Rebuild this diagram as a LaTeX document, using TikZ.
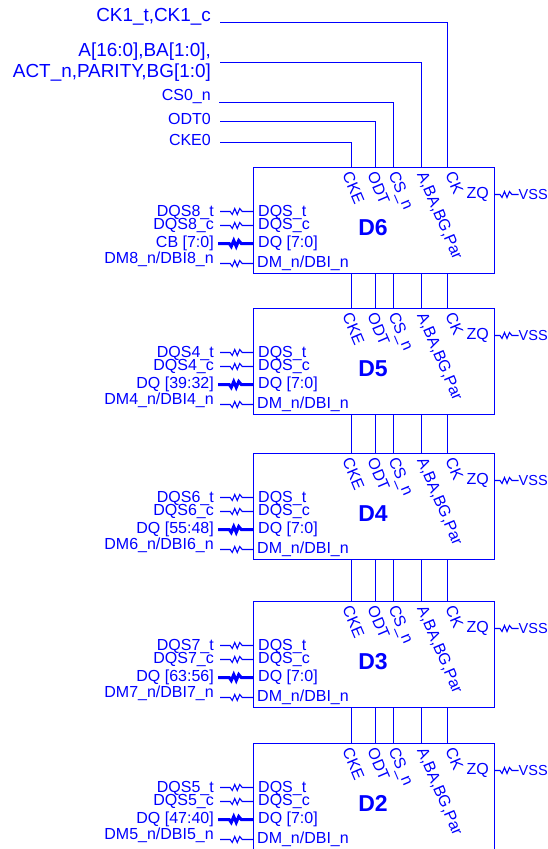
\documentclass[tikz,border=0pt]{standalone}
\usepackage{fontspec}
\setmainfont{Liberation Sans}
\usetikzlibrary{calc,positioning}
\definecolor{sigblue}{RGB}{0,0,255}
\tikzstyle{wire}      = [draw=sigblue, line width=1.1pt]
\tikzstyle{chip}      = [draw=sigblue, line width=1.1pt, minimum width=241pt, minimum height=106pt, anchor=north west, inner sep=0pt, outer sep=0pt]
\tikzstyle{sig}       = [text=sigblue, inner sep=0pt, font=\fontsize{16}{18}\selectfont]
\tikzstyle{bigsig}    = [sig, align=right, anchor=east, font=\fontsize{18.9}{20.5}\selectfont]
\tikzstyle{pin}       = [sig, anchor=west, rotate=-67]
\tikzstyle{title}     = [text=sigblue, inner sep=0pt, font=\fontsize{23}{25}\selectfont\bfseries]
\tikzstyle{res}       = [wire, to path={-- ($(\tikztostart)!0.5!(\tikztotarget)+(-6.5,0)$) -- ++(2,3) -- ++(2.5,-6) -- ++(2.5,6) -- ++(2.5,-6) -- ++(2.5,3) -- (\tikztotarget)}]

\begin{document}
\begin{tikzpicture}[x=1pt,y=-1pt]
		\useasboundingbox (0,0) rectangle (547,849);
		\clip (0,0) rectangle (547,849);
		% signals along the top
		\node[bigsig] (ck) at (211,17) {CK1\_t,CK1\_c};
		\node[bigsig] (addr) at (211,62) {A[16:0],BA[1:0],\\ACT\_n,PARITY,BG[1:0]};
		\node[sig, anchor=east] (cs) at (211,97) {CS0\_n};
		\node[sig, anchor=east] (odt) at (211,119) {ODT0};
		\node[sig, anchor=east] (cke) at (211,140) {CKE0};
		% one block per chip
		\foreach \name/\top/\dqst/\dqsc/\dq/\dm in {
				D6/167.5/DQS8\_t/DQS8\_c/CB [7:0]/DM8\_n\slash DBI8\_n,
				D5/308.5/DQS4\_t/DQS4\_c/DQ [39:32]/DM4\_n\slash DBI4\_n,
				D4/453.5/DQS6\_t/DQS6\_c/DQ [55:48]/DM6\_n\slash DBI6\_n,
				D3/601.5/DQS7\_t/DQS7\_c/DQ [63:56]/DM7\_n\slash DBI7\_n,
				D2/743.5/DQS5\_t/DQS5\_c/DQ [47:40]/DM5\_n\slash DBI5\_n
			} {
				\node[chip] (\name) at (253.5,\top) {};
				\node[title] (\name-title) at (373,\top+60) {\name};
				% pins on the top edge
				\coordinate (\name-cke) at (351.5,\top);
				\coordinate (\name-odt) at (375.5,\top);
				\coordinate (\name-cs) at (393.5,\top);
				\coordinate (\name-a) at (421.5,\top);
				\coordinate (\name-ck) at (447.5,\top);
				\node[pin] (\name-ckelbl) at (347,\top+5) {CKE};
				\node[pin] (\name-odtlbl) at (372,\top+5) {ODT};
				\node[pin] (\name-cslbl) at (392,\top+5) {CS\_n};
				\node[pin] (\name-albl) at (421,\top+5) {A,BA,BG,Par};
				\node[pin] (\name-cklbl) at (450,\top+5) {CK};
				% ZQ
				\node[sig, anchor=east] (\name-zq) at (489,\top+27) {ZQ};
				\node[sig, anchor=west, font=\fontsize{14.5}{16}\selectfont] (\name-vss) at (518.5,\top+27) {VSS};
				\draw[res] (\name.east |- \name-zq) to (\name-vss.west);
				% data pins on the left edge
				\node[sig, anchor=west] (\name-dqst) at (258,\top+45) {DQS\_t};
				\node[sig, anchor=west] (\name-dqsc) at (258,\top+58) {DQS\_c};
				\node[sig, anchor=west] (\name-dq) at (258,\top+76) {DQ [7:0]};
				\node[sig, anchor=west] (\name-dm) at (257,\top+96) {DM\_n/DBI\_n};
				\node[sig, anchor=east] (\name-l1) at (214,\top+44.5) {\dqst};
				\node[sig, anchor=east] (\name-l2) at (214,\top+57.5) {\dqsc};
				\node[sig, anchor=east] (\name-l3) at (214,\top+75.5) {\dq};
				\node[sig, anchor=east] (\name-l4) at (214,\top+91.5) {\dm};
				\coordinate (\name-e1) at (220,\top+44);
				\coordinate (\name-e2) at (220,\top+58);
				\coordinate (\name-e3) at (218,\top+76);
				\coordinate (\name-e4) at (220,\top+96);
				\draw[res] (\name-e1) to (\name.west |- \name-e1);
				\draw[res] (\name-e2) to (\name.west |- \name-e2);
				\draw[res, line width=3pt] (\name-e3) to (\name.west |- \name-e3);
				\draw[res] (\name-e4) to (\name.west |- \name-e4);
			}
		% free ends of the top signals
		\coordinate (ckend) at (220,22.5);
		\coordinate (addrend) at (220,62.5);
		\coordinate (csend) at (219,102.5);
		\coordinate (odtend) at (220,121.5);
		\coordinate (ckeend) at (220,142.5);
		\draw[wire] (ckend) -| (D6-ck);
		\draw[wire] (addrend) -| (D6-a);
		\draw[wire] (csend) -| (D6-cs);
		\draw[wire] (odtend) -| (D6-odt);
		\draw[wire] (ckeend) -| (D6-cke);
		% chips chained top to bottom
		\foreach \upper/\lower in {D6/D5,D5/D4,D4/D3,D3/D2} {
				\foreach \p in {cke,odt,cs,a,ck} {
						\draw[wire] (\lower-\p |- \upper.south) -- (\lower-\p);
					}
			}
	\end{tikzpicture}
\end{document}
